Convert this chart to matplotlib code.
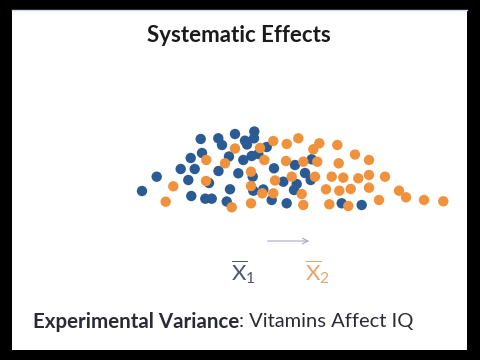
import matplotlib
matplotlib.use("Agg")
import matplotlib.pyplot as plt
from matplotlib.patches import Rectangle

plt.rcParams['font.family'] = ['Lato', 'DejaVu Sans']
plt.rcParams['mathtext.fontset'] = 'custom'
plt.rcParams['mathtext.rm'] = 'Lato'
plt.rcParams['mathtext.it'] = 'Lato'

# group 1 (no vitamins) - score, stack height
blue_x = [142, 156.7, 180.7, 188.3, 190.7, 194.7, 191.3, 200.7, 202, 205.3,
          211.7, 209, 218.3, 222, 218.5, 229, 230, 226.7, 235, 238.3,
          245, 247, 243.3, 251.7, 252.7, 253.3, 254.3, 254, 258.3, 263.3,
          266.7, 271.7, 274, 283.3, 286.7, 295, 296.7, 294, 305, 311.7,
          310.7, 341.7, 361.7]
blue_y = [191, 176.7, 169, 180, 158, 169, 196, 139, 153, 198.7,
          198.7, 183, 138.3, 145, 171, 156.5, 189.3, 201.5, 134, 173.3,
          140.7, 144.5, 160, 156, 176.7, 190.7, 131.5, 138.3, 154, 189.5,
          147, 200, 168.3, 181.7, 203.3, 165, 184, 190, 173, 159.3,
          180, 203.3, 205]

# group 2 (vitamins)
orange_x = [165.7, 173.3, 206.3, 206, 225, 231.7, 235, 251, 251, 251,
            260, 262.3, 264.3, 273.3, 275, 273.3, 286, 286.7, 298.3, 291.7,
            301.7, 303.3, 303.3, 313.3, 315, 317.3, 319.3, 326, 329.3, 331.7,
            337.3, 338.7, 339.3, 343.3, 348.3, 350.7, 355, 358.3, 369, 369,
            369, 379, 385, 399, 406, 424, 443.3]
orange_y = [201.7, 186.3, 160, 181, 163.3, 207.3, 148.5, 171.7, 186, 203.3,
            148, 193.3, 160, 141, 180.5, 193.3, 161, 144, 138.3, 176.7,
            194, 161.7, 205, 149.3, 176.7, 161.7, 143.3, 189.3, 204.3, 176.7,
            145, 163.3, 190.7, 177.7, 206, 189, 154.5, 178.3, 160, 175,
            187.7, 200, 176.7, 190.7, 197.3, 200, 201.3]

blue = '#2B5B95'
orange = '#F0923C'

fig = plt.figure(figsize=(4.8, 3.6), dpi=100, facecolor='black')
ax = fig.add_axes([0, 0, 1, 1])
ax.set_xlim(0, 480)
ax.set_ylim(360, 0)
ax.axis('off')

# slide area
ax.add_patch(Rectangle((12, 10), 455, 340, facecolor='white', edgecolor='none', zorder=0))
ax.plot([12, 467], [10, 10], color='#BFE3EA', lw=1, zorder=1)

ax.scatter(blue_x, blue_y, s=56, color=blue, edgecolors='none', zorder=3)
ax.scatter(orange_x, orange_y, s=56, color=orange, edgecolors='none', zorder=3)

ax.text(239, 36, 'Systematic Effects', ha='center', va='center',
        fontsize=16, fontweight='bold', color='#1A1A1A')

# shift of the mean
ax.annotate('', xy=(312, 241), xytext=(265, 241),
            arrowprops=dict(arrowstyle='->', color='#A8A8C8', lw=0.8))
ax.text(243, 272, r'$\overline{\mathrm{X}}_1$', ha='center', va='center',
        fontsize=16, color='#4A5670')
ax.text(317, 272, r'$\overline{\mathrm{X}}_2$', ha='center', va='center',
        fontsize=16, color='#E8A468')

t1 = ax.text(33, 322, 'Experimental Variance', ha='left', va='center',
             fontsize=14.8, fontweight='bold', color='#2B2B35')
fig.canvas.draw()
bb = t1.get_window_extent()
x_end = ax.transData.inverted().transform((bb.x1, bb.y0))[0]
ax.text(x_end, 322, ': Vitamins Affect IQ', ha='left', va='center',
        fontsize=14.5, color='#2B2B35')

fig.savefig('out.png', dpi=100, facecolor='black')
